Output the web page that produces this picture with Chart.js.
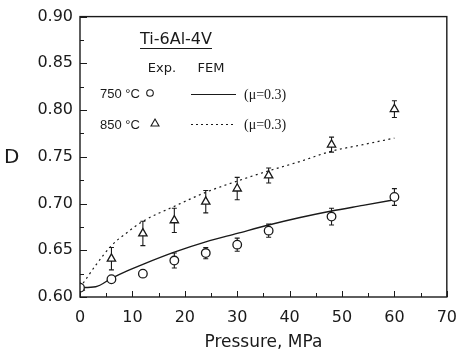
<!DOCTYPE html>
<html>
<head>
<meta charset="utf-8">
<script src="https://cdn.jsdelivr.net/npm/chart.js@4"></script>
<style>
  html, body { margin: 0; padding: 0; background: #fff; }
  #wrap { width: 468px; height: 356px; }
</style>
</head>
<body>
<div id="wrap"><canvas id="c" width="468" height="356"></canvas></div>
<script>
// Experimental pressures (MPa)
const expPressure = [0, 6, 12, 18, 24, 30, 36, 48, 60];
// Relative density D, 750 °C (circles) and its scatter
const exp750 = [0.610, 0.619, 0.625, 0.639, 0.647, 0.656, 0.671, 0.686, 0.707];
const err750 = [0, 0, 0.003, 0.008, 0.006, 0.007, 0.007, 0.009, 0.009];
// Relative density D, 850 °C (triangles) and its scatter
const exp850 = [0.610, 0.641, 0.668, 0.682, 0.702, 0.716, 0.730, 0.763, 0.801];
const err850 = [0, 0.012, 0.013, 0.013, 0.012, 0.012, 0.008, 0.008, 0.009];

// FEM predictions (mu = 0.3)
const femPressure750 = [0, 3, 6, 9, 12, 18, 24, 30, 36, 42, 48, 54, 60];
const fem750 = [0.610, 0.611, 0.620, 0.628, 0.635, 0.648, 0.659, 0.668, 0.677, 0.685, 0.692, 0.698, 0.704];
const femPressure850 = [0, 1, 3, 6, 9, 12, 18, 24, 30, 36, 42, 48, 54, 60];
const fem850 = [0.610, 0.618, 0.634, 0.655, 0.669, 0.681, 0.697, 0.712, 0.724, 0.735, 0.745, 0.756, 0.763, 0.770];

// Axis ticks
const xTicks = [0, 10, 20, 30, 40, 50, 60, 70];
const yTicks = [0.60, 0.65, 0.70, 0.75, 0.80, 0.85, 0.90];

const pts = (xs, ys) => xs.map((x, i) => ({ x: x, y: ys[i] }));
const INK = '#1a1a1a';
const SANS = '"DejaVu Sans", sans-serif';
const NARROW = '"Liberation Sans", Arial, sans-serif';
const SERIF = '"Liberation Serif", "DejaVu Serif", serif';

// Frame, inward ticks, error bars and the in-plot key
const decor = {
  id: 'decor',
  beforeDatasetsDraw(chart) {
    const { ctx, scales: { x, y } } = chart;
    ctx.save();
    ctx.strokeStyle = INK;
    ctx.lineWidth = 1.1;
    const bars = (vals, errs) => {
      expPressure.forEach((p, i) => {
        if (!errs[i]) return;
        const px = x.getPixelForValue(p);
        const top = y.getPixelForValue(vals[i] + errs[i]);
        const bot = y.getPixelForValue(vals[i] - errs[i]);
        ctx.beginPath();
        ctx.moveTo(px, top); ctx.lineTo(px, bot);
        ctx.moveTo(px - 2.5, top); ctx.lineTo(px + 2.5, top);
        ctx.moveTo(px - 2.5, bot); ctx.lineTo(px + 2.5, bot);
        ctx.stroke();
      });
    };
    bars(exp750, err750);
    bars(exp850, err850);
    ctx.restore();
  },
  afterDraw(chart) {
    const { ctx, chartArea: a, scales: { x, y } } = chart;
    ctx.save();
    // frame
    ctx.strokeStyle = INK;
    ctx.lineWidth = 1.4;
    ctx.strokeRect(a.left, a.top, a.right - a.left, a.bottom - a.top);
    // x ticks (major every 10, minor every 5), pointing into the plot
    ctx.lineWidth = 1;
    ctx.beginPath();
    for (let v = 0; v <= 70; v += 5) {
      const px = Math.round(x.getPixelForValue(v)) + 0.5;
      const len = v % 10 === 0 ? 6 : 4;
      ctx.moveTo(px, a.bottom); ctx.lineTo(px, a.bottom - len);
    }
    // y ticks (major every 0.05, minor every 0.025)
    for (let k = 0; k <= 12; k++) {
      const v = 0.6 + k * 0.025;
      const py = Math.round(y.getPixelForValue(v)) + 0.5;
      const len = k % 2 === 0 ? 7 : 4;
      ctx.moveTo(a.left, py); ctx.lineTo(a.left + len, py);
    }
    ctx.stroke();

    // y-axis symbol
    ctx.fillStyle = INK;
    ctx.textBaseline = 'middle';
    ctx.textAlign = 'left';
    ctx.font = '20px ' + SANS;
    ctx.fillText('D', 4, y.getPixelForValue(0.75) + 1);

    // key
    ctx.font = '16px ' + SANS;
    ctx.textAlign = 'center';
    ctx.fillText('Ti-6Al-4V', 176, 40);
    const tw = ctx.measureText('Ti-6Al-4V').width;
    ctx.lineWidth = 1;
    ctx.beginPath();
    ctx.moveTo(176 - tw / 2, 48.5); ctx.lineTo(176 + tw / 2, 48.5);
    ctx.stroke();

    ctx.font = '13px ' + SANS;
    ctx.fillText('Exp.', 162, 69);
    ctx.fillText('FEM', 211, 69);

    ctx.textAlign = 'left';
    ctx.font = '13px ' + NARROW;
    ctx.fillText('750 °C', 100, 94);
    ctx.fillText('850 °C', 100, 125);

    ctx.lineWidth = 1.1;
    ctx.beginPath();
    ctx.arc(150, 93, 3.3, 0, Math.PI * 2);
    ctx.stroke();
    ctx.beginPath();
    ctx.moveTo(155, 119); ctx.lineTo(159, 126); ctx.lineTo(151, 126); ctx.closePath();
    ctx.stroke();

    ctx.lineWidth = 1.2;
    ctx.beginPath();
    ctx.moveTo(191, 94.5); ctx.lineTo(236, 94.5);
    ctx.stroke();
    ctx.setLineDash([2, 3]);
    ctx.beginPath();
    ctx.moveTo(191, 124.5); ctx.lineTo(236, 124.5);
    ctx.stroke();
    ctx.setLineDash([]);

    ctx.font = '14px ' + SERIF;
    ctx.fillText('(\u03bc=0.3)', 244, 95);
    ctx.fillText('(\u03bc=0.3)', 244, 125);
    ctx.restore();
  }
};

new Chart(document.getElementById('c'), {
  type: 'scatter',
  data: {
    datasets: [
      {
        label: 'FEM 750 °C',
        data: pts(femPressure750, fem750),
        showLine: true,
        borderColor: INK,
        borderWidth: 1.4,
        pointRadius: 0,
        cubicInterpolationMode: 'monotone',
        order: 3
      },
      {
        label: 'FEM 850 °C',
        data: pts(femPressure850, fem850),
        showLine: true,
        borderColor: INK,
        borderWidth: 1.2,
        borderDash: [2, 3.5],
        pointRadius: 0,
        cubicInterpolationMode: 'monotone',
        order: 3
      },
      {
        label: 'Exp. 750 °C',
        data: pts(expPressure, exp750),
        pointStyle: 'circle',
        pointRadius: 4.3,
        borderColor: INK,
        borderWidth: 1.3,
        backgroundColor: '#fff',
        order: 1
      },
      {
        label: 'Exp. 850 °C',
        data: pts(expPressure, exp850),
        pointStyle: 'triangle',
        pointRadius: 4.8,
        borderColor: INK,
        borderWidth: 1.3,
        backgroundColor: '#fff',
        order: 2
      }
    ]
  },
  options: {
    responsive: false,
    animation: false,
    devicePixelRatio: 1,
    layout: { padding: { left: 0, right: 18, top: 15, bottom: 0 } },
    plugins: { legend: { display: false }, tooltip: { enabled: false } },
    scales: {
      x: {
        type: 'linear',
        min: 0, max: 70,
        afterFit: s => { s.height = 59; },
        afterBuildTicks: s => { s.ticks = xTicks.map(v => ({ value: v })); },
        grid: { display: false, drawTicks: false },
        border: { display: false },
        ticks: { color: INK, padding: 11, font: { family: SANS, size: 16 }, maxRotation: 0 },
        title: {
          display: true,
          text: 'Pressure, MPa',
          color: INK,
          font: { family: SANS, size: 17 },
          padding: { top: 2, bottom: 3 }
        }
      },
      y: {
        type: 'linear',
        min: 0.6, max: 0.9,
        afterFit: s => { s.width = 80; },
        afterBuildTicks: s => { s.ticks = yTicks.map(v => ({ value: v })); },
        grid: { display: false, drawTicks: false },
        border: { display: false },
        ticks: {
          color: INK, padding: 7,
          font: { family: SANS, size: 16 },
          callback: v => v.toFixed(2)
        }
      }
    }
  },
  plugins: [decor]
});
</script>
</body>
</html>
